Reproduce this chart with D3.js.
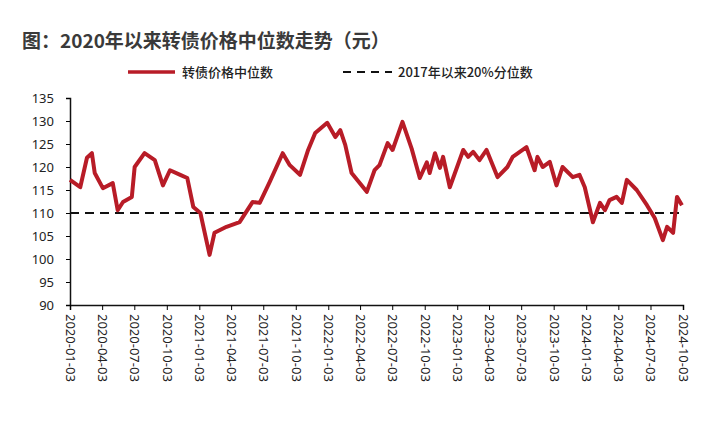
<!DOCTYPE html>
<html><head><meta charset="utf-8">
<script src="https://cdn.jsdelivr.net/npm/d3@7"></script>
<style>
body{margin:0;background:#fff;font-family:"Noto Sans CJK SC","Noto Sans",sans-serif;}
.axis text{font-size:13px;fill:#222;font-family:"Noto Sans","Noto Sans CJK SC",sans-serif;}
</style></head><body>
<div id="chart"></div>
<script>
// 转债价格中位数
var dates = ["2020-01-03","2020-02-01","2020-02-20","2020-03-05","2020-03-13","2020-04-05","2020-05-03","2020-05-17","2020-06-01","2020-06-26",
"2020-07-04","2020-08-01","2020-08-30","2020-09-22","2020-10-12","2020-11-10","2020-11-30","2020-12-17","2021-01-06","2021-02-01",
"2021-02-15","2021-03-21","2021-04-27","2021-06-03","2021-06-23","2021-07-21","2021-08-27","2021-09-16","2021-10-15","2021-11-07",
"2021-11-27","2021-12-31","2022-01-23","2022-02-06","2022-02-20","2022-03-10","2022-04-22","2022-05-14","2022-05-28","2022-06-20",
"2022-07-04","2022-08-01","2022-08-27","2022-09-19","2022-10-09","2022-10-17","2022-11-01","2022-11-15","2022-11-24","2022-12-13",
"2023-01-20","2023-02-03","2023-02-17","2023-03-07","2023-03-27","2023-04-27","2023-05-25","2023-06-09","2023-07-18","2023-08-10",
"2023-08-18","2023-09-02","2023-09-22","2023-10-11","2023-10-28","2023-11-26","2023-12-15","2023-12-30","2024-01-22","2024-02-11",
"2024-02-25","2024-03-09","2024-03-29","2024-04-13","2024-04-27","2024-05-25","2024-06-23","2024-07-15","2024-08-07","2024-08-19",
"2024-09-05","2024-09-16","2024-09-30"];
var median = [117.2,115.6,122,123,118.7,115.4,116.5,110.6,112.4,113.5,
120,123,121.5,116,119.3,118.3,117.6,111.3,110,100.9,
105.7,107,108,112.4,112.2,116.7,123,120.4,118.3,123.7,
127.4,129.6,126.5,128,124.8,118.7,114.6,119.3,120.4,125.2,
123.7,129.8,124,117.6,121,118.7,123,119.8,122.2,115.6,
123.7,122.2,123.3,121.5,123.7,117.8,120,122.2,124.3,119.3,
122.2,120,121.1,116,120,117.8,118.3,115.6,108,112.2,
110.6,112.8,113.5,112.2,117.2,115,111.7,108.9,104.1,107,
105.7,113.5,111.7];
var pct20 = 110;
var tickLabels = ["2020-01-03","2020-04-03","2020-07-03","2020-10-03","2021-01-03","2021-04-03","2021-07-03","2021-10-03",
"2022-01-03","2022-04-03","2022-07-03","2022-10-03","2023-01-03","2023-04-03","2023-07-03","2023-10-03",
"2024-01-03","2024-04-03","2024-07-03","2024-10-03"];
var yTicks = d3.range(90, 136, 5);

var W = 725, H = 438;
var parse = d3.timeParse("%Y-%m-%d");
var data = dates.map(function(d, i){ return {date: parse(d), v: median[i]}; });

var svg = d3.select("#chart").append("svg").attr("width", W).attr("height", H);

svg.append("text").attr("x", 22).attr("y", 48)
  .style("font-size", "19px").style("font-weight", "bold").attr("fill", "#3a3a3a")
  .text("图：2020年以来转债价格中位数走势（元）");

// legend
var lg = svg.append("g").attr("transform", "translate(0,72)");
lg.append("line").attr("x1", 128).attr("x2", 175).attr("stroke", "#b81c27").attr("stroke-width", 3.5);
lg.append("text").attr("x", 182).attr("y", 5).style("font-size", "13px").style("font-weight", "500").attr("fill", "#222").text("转债价格中位数");
lg.append("line").attr("x1", 343).attr("x2", 392).attr("stroke", "#111").attr("stroke-width", 2).attr("stroke-dasharray", "8,6");
lg.append("text").attr("x", 398).attr("y", 5).style("font-size", "13px").style("font-weight", "500").attr("fill", "#222").text("2017年以来20%分位数");

var x = d3.scaleTime().domain([parse("2020-01-03"), parse("2024-10-03")]).range([70, 683]);
var y = d3.scaleLinear().domain([90, 135]).range([305, 98]);

var gy = svg.append("g").attr("class", "axis").attr("transform", "translate(70,0)")
  .call(d3.axisLeft(y).tickValues(yTicks).tickSize(4).tickPadding(12));
gy.select(".domain").attr("stroke", "#111").attr("stroke-width", 1.5);

var gx = svg.append("g").attr("class", "axis").attr("transform", "translate(0,305)")
  .call(d3.axisBottom(x).tickValues(tickLabels.map(parse)).tickSize(5)
    .tickFormat(function(d){ return d3.timeFormat("%Y-%m-%d")(d); }));
gx.select(".domain").attr("stroke", "#111").attr("stroke-width", 1.5);
gx.selectAll("text").attr("transform", "rotate(90)").attr("text-anchor", "start")
  .attr("x", 9).attr("y", 0).attr("dy", "0.35em");

svg.append("line").attr("x1", 70).attr("x2", 683).attr("y1", y(pct20)).attr("y2", y(pct20))
  .attr("stroke", "#111").attr("stroke-width", 2).attr("stroke-dasharray", "9,6");

svg.append("path").datum(data).attr("fill", "none").attr("stroke", "#b81c27")
  .attr("stroke-width", 4).attr("stroke-linejoin", "round")
  .attr("d", d3.line().x(function(d){ return x(d.date); }).y(function(d){ return y(d.v); }));
</script></body></html>
